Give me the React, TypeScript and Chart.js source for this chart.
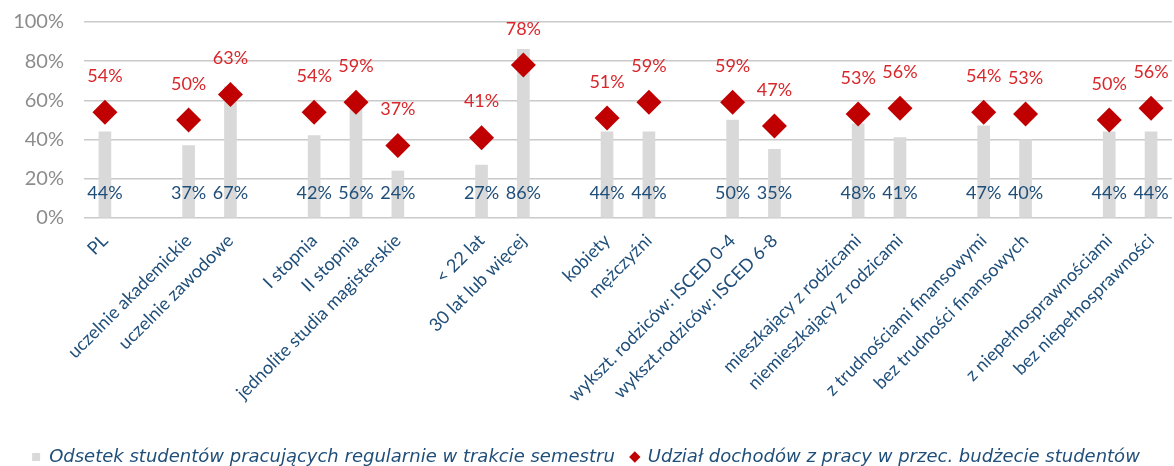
import React, { useEffect, useRef } from "react";
import { Chart, registerables } from "chart.js";

Chart.register(...registerables);

const categories = [
  "PL", "",
  "uczelnie akademickie", "uczelnie zawodowe", "",
  "I stopnia", "II stopnia", "jednolite studia magisterskie", "",
  "< 22 lat", "30 lat lub więcej", "",
  "kobiety", "mężczyźni", "",
  "wykszt. rodziców: ISCED 0-4", "wykszt.rodziców: ISCED 6-8", "",
  "mieszkający z rodzicami", "niemieszkający z rodzicami", "",
  "z trudnościami finansowymi", "bez trudności finansowych", "",
  "z niepełnosprawnościami", "bez niepełnosprawności",
];

const workingShare = [
  44, null,
  37, 67, null,
  42, 56, 24, null,
  27, 86, null,
  44, 44, null,
  50, 35, null,
  48, 41, null,
  47, 40, null,
  44, 44,
];

const incomeShare = [
  54, null,
  50, 63, null,
  54, 59, 37, null,
  41, 78, null,
  51, 59, null,
  59, 47, null,
  53, 56, null,
  54, 53, null,
  50, 56,
];

const yTicks = [0, 20, 40, 60, 80, 100];

const seriesNames = [
  "Odsetek studentów pracujących regularnie w trakcie semestru",
  "Udział dochodów z pracy w przec. budżecie studentów",
];

const valueLabels = {
  id: "valueLabels",
  afterDatasetsDraw(chart: any) {
    const ctx = chart.ctx;
    const y0 = chart.scales.y.getPixelForValue(0);
    chart.data.datasets.forEach((ds: any, di: number) => {
      const meta = chart.getDatasetMeta(di);
      meta.data.forEach((el: any, i: number) => {
        const v = ds.data[i];
        if (v == null) return;
        ctx.save();
        ctx.font = "18px Lato";
        ctx.textAlign = "center";
        ctx.textBaseline = "middle";
        if (di === 0) {
          ctx.fillStyle = "#1F4E79";
          ctx.fillText(v + "%", el.x, y0 - 25);
        } else {
          ctx.fillStyle = "#D9262A";
          ctx.fillText(v + "%", el.x, el.y - 36);
        }
        ctx.restore();
      });
    });
  },
};

export default function App() {
  const ref = useRef<HTMLCanvasElement | null>(null);

  useEffect(() => {
    if (!ref.current) return;
    const chart = new Chart(ref.current, {
      type: "bar",
      data: {
        labels: categories,
        datasets: [
          {
            type: "bar",
            label: seriesNames[0],
            data: workingShare,
            backgroundColor: "#D9D9D9",
            barThickness: 12,
            order: 1,
          } as any,
          {
            type: "line",
            label: seriesNames[1],
            data: incomeShare,
            showLine: false,
            pointStyle: "rectRot",
            pointRadius: 12.5,
            pointHoverRadius: 12.5,
            backgroundColor: "#C00000",
            borderColor: "#C00000",
            borderWidth: 0,
            clip: false,
            order: 0,
          } as any,
        ],
      },
      options: {
        animation: false,
        responsive: true,
        maintainAspectRatio: false,
        layout: { autoPadding: false, padding: { top: 22, right: 2, left: 0, bottom: 0 } },
        plugins: {
          tooltip: { enabled: false },
          legend: {
            position: "bottom",
            labels: {
              usePointStyle: true,
              boxWidth: 8,
              boxHeight: 8,
              padding: 16,
              color: "#1F4E79",
              font: { family: "DejaVu Sans", size: 18, style: "italic" },
              generateLabels: (c: any) => {
                const items = (Chart.defaults.plugins.legend.labels as any).generateLabels(c);
                items.forEach((it: any) => {
                  it.pointStyle = it.datasetIndex === 0 ? "rect" : "rectRot";
                  it.lineWidth = 0;
                });
                return items.sort((a: any, b: any) => a.datasetIndex - b.datasetIndex);
              },
            },
          },
        },
        scales: {
          x: {
            grid: { display: false },
            border: { display: false },
            ticks: {
              autoSkip: false,
              maxRotation: 45,
              minRotation: 45,
              padding: 4,
              color: "#1F4E79",
              font: { family: "Lato", size: 18 },
            },
            afterFit: (s: any) => {
              s.height = 214;
              s.paddingLeft = 0;
              s.paddingRight = 0;
            },
          },
          y: {
            min: 0,
            max: 100,
            afterBuildTicks: (s: any) => {
              s.ticks = yTicks.map((v) => ({ value: v }));
            },
            grid: { color: "#CACACA", lineWidth: 1.5, drawTicks: false },
            border: { display: false },
            ticks: {
              padding: 20,
              color: "#8C8C8C",
              font: { family: "Lato", size: 20 },
              callback: (v: any) => v + "%",
            },
            afterFit: (s: any) => {
              s.width = 84;
              s.paddingTop = 0;
              s.paddingBottom = 0;
            },
          },
        },
      },
      plugins: [valueLabels],
    });
    return () => chart.destroy();
  }, []);

  return (
    <div style={{ position: "fixed", left: 0, top: 0, width: 1174, height: 466, overflow: "hidden" }}>
      <div style={{ position: "absolute", left: 0, top: 0, width: 1174, height: 476 }}>
        <canvas ref={ref} />
      </div>
    </div>
  );
}
